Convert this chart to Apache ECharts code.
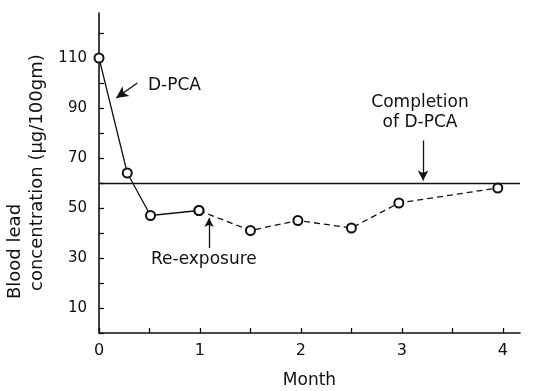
<!DOCTYPE html>
<html>
<head>
<meta charset="utf-8">
<script src="https://cdn.jsdelivr.net/npm/echarts@6/dist/echarts.min.js"></script>
<style>
  html, body { margin: 0; padding: 0; background: #fff; }
  #chart { width: 533px; height: 391px; }
</style>
</head>
<body>
<div id="chart"></div>
<script>
// data
var months = [0, 0.28, 0.51, 0.99, 1.5, 1.97, 2.5, 2.97, 3.95];
var lead = [110, 64, 47, 49, 41, 45, 42, 52, 58];
var solidEnd = 3;            // points 0..3 solid, 3..end dashed (re-exposure)
var completionLevel = 60;   // horizontal reference line

var xTicks = [0, 0.5, 1, 1.5, 2, 2.5, 3, 3.5, 4];
var xLabels = [0, 1, 2, 3, 4];
var yTicks = [0, 10, 20, 30, 40, 50, 60, 70, 80, 90, 100, 110, 120];
var yLabels = [10, 30, 50, 70, 90, 110];

// annotation arrows [from, to] in data units
var dpcaArrow = [[0.38, 100], [0.17, 94]];
var reexpArrow = [[1.09, 34], [1.09, 46]];
var complArrow = [[3.21, 77], [3.21, 61]];

var font = 'DejaVu Sans';
var ink = '#111';

function pairs(a, b) {
  var out = [];
  for (var i = 0; i < a.length; i++) out.push([a[i], b[i]]);
  return out;
}
var pts = pairs(months, lead);

var myChart = echarts.init(document.getElementById('chart'));
var option = {
  backgroundColor: '#fff',
  animation: false,
  textStyle: { fontFamily: font, color: ink },
  grid: { left: 99, right: 13, top: 13, bottom: 58, outerBoundsMode: 'none', containLabel: false },
  xAxis: {
    type: 'value',
    min: 0,
    max: 4.17,
    interval: 1,
    name: 'Month',
    nameLocation: 'middle',
    nameGap: 39,
    nameTextStyle: { fontFamily: font, fontSize: 17, color: ink },
    axisLine: { lineStyle: { color: ink, width: 1.6 } },
    axisTick: { inside: true, length: 5, customValues: xTicks, lineStyle: { color: ink, width: 1.3 } },
    axisLabel: { customValues: xLabels, margin: 10, fontFamily: font, fontSize: 16, color: ink },
    splitLine: { show: false }
  },
  yAxis: {
    type: 'value',
    min: 0,
    max: 128,
    interval: 10,
    axisLine: { lineStyle: { color: ink, width: 1.6 } },
    axisTick: { inside: true, length: 5, customValues: yTicks, lineStyle: { color: ink, width: 1.3 } },
    axisLabel: { customValues: yLabels, margin: 12, fontFamily: font, fontSize: 15, color: ink },
    splitLine: { show: false }
  },
  graphic: [
    { type: 'text', x: 15, y: 299, rotation: Math.PI / 2,
      style: { text: 'Blood lead', font: '18px ' + font, fill: ink, textAlign: 'left', textVerticalAlign: 'middle' } },
    { type: 'text', x: 37, y: 291, rotation: Math.PI / 2,
      style: { text: 'concentration (\u00b5g/100gm)', font: '18px ' + font, fill: ink, textAlign: 'left', textVerticalAlign: 'middle' } },
    { type: 'text', x: 148, y: 86,
      style: { text: 'D-PCA', font: '17px ' + font, fill: ink, textAlign: 'left', textVerticalAlign: 'middle' } },
    { type: 'text', x: 151, y: 260,
      style: { text: 'Re-exposure', font: '17px ' + font, fill: ink, textAlign: 'left', textVerticalAlign: 'middle' } },
    { type: 'text', x: 420, y: 103,
      style: { text: 'Completion', font: '17px ' + font, fill: ink, textAlign: 'center', textVerticalAlign: 'middle' } },
    { type: 'text', x: 420, y: 123,
      style: { text: 'of D-PCA', font: '17px ' + font, fill: ink, textAlign: 'center', textVerticalAlign: 'middle' } }
  ],
  series: [
    {
      type: 'line',
      data: pts.slice(0, solidEnd + 1),
      symbol: 'emptyCircle',
      symbolSize: 9,
      itemStyle: { color: ink, borderColor: ink, borderWidth: 1 },
      lineStyle: { color: ink, width: 1.3 },
      silent: true,
      z: 3,
      markLine: {
        silent: true,
        symbol: ['none', 'none'],
        label: { show: false },
        lineStyle: { color: ink, width: 1.3, type: 'solid' },
        data: [
          { yAxis: completionLevel },
          [{ coord: dpcaArrow[0], symbol: 'none' }, { coord: dpcaArrow[1], symbol: 'arrow', symbolSize: [9, 12] }],
          [{ coord: reexpArrow[0], symbol: 'none' }, { coord: reexpArrow[1], symbol: 'arrow', symbolSize: [7, 9] }],
          [{ coord: complArrow[0], symbol: 'none' }, { coord: complArrow[1], symbol: 'arrow', symbolSize: [8, 10] }]
        ]
      }
    },
    {
      type: 'line',
      data: pts.slice(solidEnd),
      symbol: 'emptyCircle',
      symbolSize: 9,
      itemStyle: { color: ink, borderColor: ink, borderWidth: 1 },
      lineStyle: { color: ink, width: 1.3, type: [6, 4] },
      silent: true,
      z: 3
    }
  ]
};
myChart.setOption(option);
</script>
</body>
</html>
